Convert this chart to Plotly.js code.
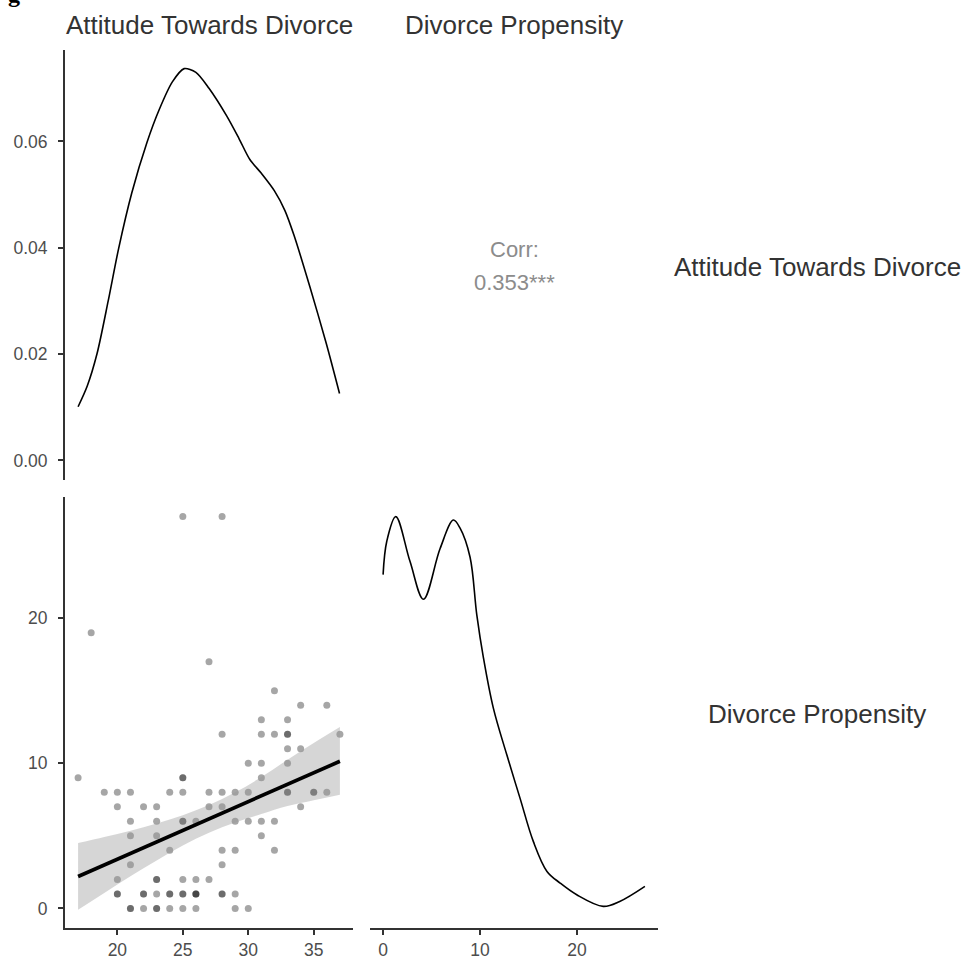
<!DOCTYPE html>
<html>
<head>
<meta charset="utf-8">
<script src="https://cdn.plot.ly/plotly-3.0.1.min.js"></script>
<style>html,body{margin:0;padding:0;background:#fff;}#chart{width:966px;height:964px;}</style>
</head>
<body>
<div id="chart"></div>
<script>
// ---- Data ----
const variables = ["Attitude Towards Divorce", "Divorce Propensity"];
const corrLabel = "Corr:";
const corrValue = "0.353***";

// Scatter: Attitude Towards Divorce (x) vs Divorce Propensity (y)
const attitude = [
  25, 28,
  18,
  27,
  32,
  34, 36,
  31, 33,
  28, 31, 32, 33, 33, 37,
  33, 34,
  30, 31, 33,
  17, 25, 25, 31,
  19, 20, 21, 24, 25, 27, 28, 29, 30, 33, 33, 35, 35, 36,
  20, 22, 23, 27, 28, 34,
  21, 23, 25, 25, 26, 29, 30, 31, 32,
  21, 23, 31,
  24, 28, 29, 32,
  21, 28,
  20, 23, 23, 25, 26, 27,
  20, 20, 22, 22, 23, 24, 24, 25, 25, 26, 26, 26, 28, 28, 29,
  21, 21, 22, 23, 23, 24, 25, 26, 29, 30
];
const propensity = [
  27, 27,
  19,
  17,
  15,
  14, 14,
  13, 13,
  12, 12, 12, 12, 12, 12,
  11, 11,
  10, 10, 10,
  9, 9, 9, 9,
  8, 8, 8, 8, 8, 8, 8, 8, 8, 8, 8, 8, 8, 8,
  7, 7, 7, 7, 7, 7,
  6, 6, 6, 6, 6, 6, 6, 6, 6,
  5, 5, 5,
  4, 4, 4, 4,
  3, 3,
  2, 2, 2, 2, 2, 2,
  1, 1, 1, 1, 1, 1, 1, 1, 1, 1, 1, 1, 1, 1, 1,
  0, 0, 0, 0, 0, 0, 0, 0, 0, 0
];

// Linear fit with confidence band
const fitX  = [17, 19, 21, 23, 25, 27, 29, 31, 33, 35, 37];
const fitY  = [2.2, 2.99, 3.79, 4.58, 5.38, 6.17, 6.96, 7.76, 8.55, 9.35, 10.14];
const fitLo = [-0.1, 1.06, 2.22, 3.31, 4.34, 5.22, 5.92, 6.5, 7.05, 7.45, 7.84];
const fitHi = [4.5, 4.92, 5.36, 5.85, 6.42, 7.12, 8.0, 9.05, 10.25, 11.4, 12.5];

// Density of Attitude Towards Divorce
const attDensX = [17.0, 17.7, 18.45, 19.3, 20.1, 21.1, 22.26, 23.2, 24.2, 25.1, 26.0, 27.0, 28.35, 29.3, 30.12, 31.0, 32.0, 32.8, 33.5, 34.7, 35.96, 36.97];
const attDensY = [0.0101, 0.0140, 0.0201, 0.0300, 0.0399, 0.0503, 0.0598, 0.0660, 0.0712, 0.0737, 0.0730, 0.0700, 0.0648, 0.0605, 0.0566, 0.0540, 0.0507, 0.0470, 0.0423, 0.0327, 0.0220, 0.0126];

// Density of Divorce Propensity (rescaled to the row's scale)
const propDensX = [0, 0.38, 1.31, 2.78, 4.16, 5.88, 7.25, 7.94, 8.97, 9.66, 10.34, 11.37, 12.75, 14.12, 15.5, 16.9, 18.25, 19.97, 22.7, 24.4, 27.0];
const propDensY = [23.0, 25.3, 27.0, 23.9, 21.3, 24.8, 26.76, 26.2, 24.2, 20.25, 17.3, 13.8, 10.6, 7.6, 4.6, 2.55, 1.75, 0.94, 0.14, 0.48, 1.52];

// Tick values
const attTicks = [20, 25, 30, 35];
const propTicksX = [0, 10, 20];
const propTicksY = [0, 10, 20];
const densTicks = [0, 0.02, 0.04, 0.06];

// ---- Layout geometry ----
const W = 966, H = 964;
const px = v => v / W;
const py = v => 1 - v / H;
const col1 = [px(65), px(353)];
const col2 = [px(370), px(658)];
const row1 = [py(480), py(50)];
const row2 = [py(928), py(497)];

const FONT = "Liberation Sans, Arial, sans-serif";
const tickFont = {family: FONT, size: 17.5, color: "#4d4d4d"};
const axisCommon = {
  showgrid: false, zeroline: false, showline: true, linecolor: "#333333", linewidth: 2,
  ticks: "outside", ticklen: 5, tickwidth: 2, tickcolor: "#333333", tickfont: tickFont,
  fixedrange: true
};

const traces = [
  // scatter points
  {type: "scatter", mode: "markers", x: attitude, y: propensity, xaxis: "x", yaxis: "y",
   marker: {size: 7, color: "rgba(0,0,0,0.35)", line: {width: 0}}, hoverinfo: "skip"},
  // confidence band
  {type: "scatter", mode: "lines", x: fitX, y: fitLo, xaxis: "x", yaxis: "y",
   line: {width: 0, color: "rgba(0,0,0,0)", shape: "spline"}, hoverinfo: "skip"},
  {type: "scatter", mode: "lines", x: fitX, y: fitHi, xaxis: "x", yaxis: "y", fill: "tonexty",
   fillcolor: "rgba(153,153,153,0.4)", line: {width: 0, color: "rgba(0,0,0,0)", shape: "spline"}, hoverinfo: "skip"},
  // fit line
  {type: "scatter", mode: "lines", x: fitX, y: fitY, xaxis: "x", yaxis: "y",
   line: {color: "#000000", width: 3.6}, hoverinfo: "skip"},
  // attitude density (top-left)
  {type: "scatter", mode: "lines", x: attDensX, y: attDensY, xaxis: "x2", yaxis: "y2",
   line: {color: "#000000", width: 1.6, shape: "spline", smoothing: 0.8}, hoverinfo: "skip"},
  // propensity density (bottom-right)
  {type: "scatter", mode: "lines", x: propDensX, y: propDensY, xaxis: "x3", yaxis: "y3",
   line: {color: "#000000", width: 1.6, shape: "spline", smoothing: 1}, hoverinfo: "skip"}
];

const ann = (text, x, y, size, color, extra) => Object.assign({
  text: text, x: x, y: y, xref: "paper", yref: "paper", showarrow: false,
  xanchor: "center", yanchor: "middle", font: {family: FONT, size: size, color: color}
}, extra || {});

const layout = {
  width: W, height: H,
  margin: {l: 0, r: 0, t: 0, b: 0},
  paper_bgcolor: "#ffffff", plot_bgcolor: "rgba(0,0,0,0)",
  showlegend: false,
  xaxis: Object.assign({}, axisCommon, {domain: col1, anchor: "y", range: [16, 38],
    tickvals: attTicks, ticktext: attTicks.map(String)}),
  yaxis: Object.assign({}, axisCommon, {domain: row2, anchor: "x", range: [-1.35, 28.35],
    tickvals: propTicksY, ticktext: propTicksY.map(String), ticklabelstandoff: 7}),
  xaxis2: {domain: col1, anchor: "y2", range: [16, 38], visible: false, fixedrange: true},
  yaxis2: Object.assign({}, axisCommon, {domain: row1, anchor: "x2", range: [-0.00368, 0.0772],
    tickvals: densTicks, ticktext: densTicks.map(v => v.toFixed(2)), ticklabelstandoff: 7}),
  xaxis3: Object.assign({}, axisCommon, {domain: col2, anchor: "y3", range: [-1.35, 28.35],
    tickvals: propTicksX, ticktext: propTicksX.map(String)}),
  yaxis3: {domain: row2, anchor: "x3", range: [-1.35, 28.35], visible: false, fixedrange: true},
  annotations: [
    ann(variables[0], (col1[0] + col1[1]) / 2, py(25), 26, "#333333"),
    ann(variables[1], (col2[0] + col2[1]) / 2, py(25), 26, "#333333"),
    ann(variables[0], px(817), py(267), 26, "#333333"),
    ann(variables[1], px(817), py(714), 26, "#333333"),
    ann(corrLabel, (col2[0] + col2[1]) / 2, py(250), 22, "#8c8c8c"),
    ann(corrValue, (col2[0] + col2[1]) / 2, py(282), 22, "#8c8c8c"),
    ann("<b>g</b>", px(14), py(9), 24, "#000000", {yanchor: "bottom", font: {family: "Liberation Serif, Times New Roman, serif", size: 24, color: "#000000"}})
  ]
};

Plotly.newPlot("chart", traces, layout, {staticPlot: true, displayModeBar: false});
</script>
</body>
</html>
